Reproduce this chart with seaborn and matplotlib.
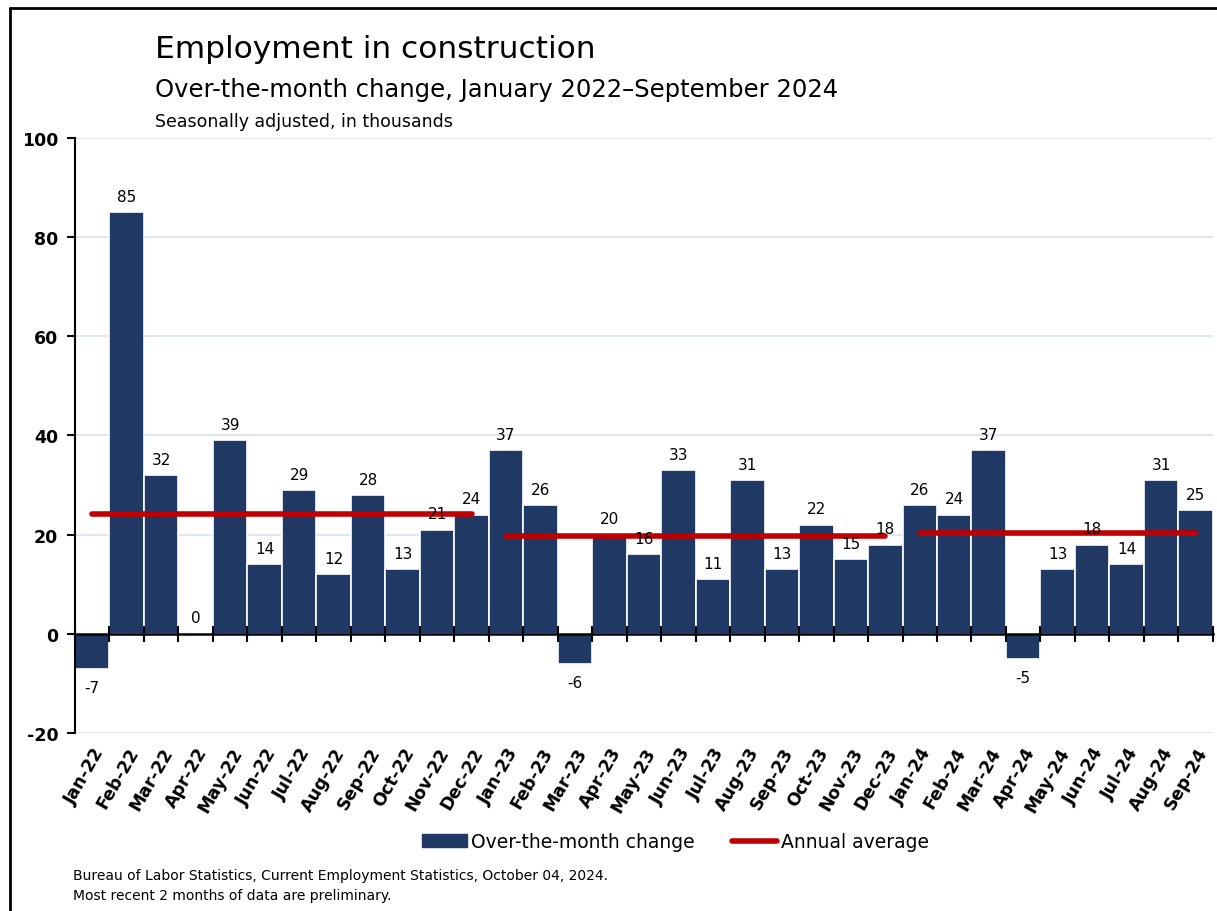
import numpy as np
import seaborn as sns
import matplotlib.pyplot as plt
from matplotlib.patches import Patch
from matplotlib.lines import Line2D

# Monthly change in construction employment (thousands)
months = ["Jan-22", "Feb-22", "Mar-22", "Apr-22", "May-22", "Jun-22", "Jul-22", "Aug-22",
          "Sep-22", "Oct-22", "Nov-22", "Dec-22", "Jan-23", "Feb-23", "Mar-23", "Apr-23",
          "May-23", "Jun-23", "Jul-23", "Aug-23", "Sep-23", "Oct-23", "Nov-23", "Dec-23",
          "Jan-24", "Feb-24", "Mar-24", "Apr-24", "May-24", "Jun-24", "Jul-24", "Aug-24",
          "Sep-24"]
change = [-7, 85, 32, 0, 39, 14, 29, 12, 28, 13, 21, 24,
          37, 26, -6, 20, 16, 33, 11, 31, 13, 22, 15, 18,
          26, 24, 37, -5, 13, 18, 14, 31, 25]

# Annual averages: first and last month of each year, value
avg_start = ["Jan-22", "Jan-23", "Jan-24"]
avg_end = ["Dec-22", "Dec-23", "Sep-24"]
avg_value = [24.2, 19.7, 20.3]

bar_color = "#203864"
avg_color = "#c00000"
grid_color = "#d9e2f3"

sns.set_style("white")
plt.rcParams["font.family"] = ["DejaVu Sans"]
plt.rcParams["text.color"] = "black"
plt.rcParams["xtick.color"] = "black"
plt.rcParams["ytick.color"] = "black"
plt.rcParams["axes.unicode_minus"] = False

fig = plt.figure(figsize=(12.17, 9.12), dpi=100)
ax = fig.add_axes([0.0616, 0.1952, 0.935, 0.6524])

sns.barplot(x=months, y=change, color=bar_color, width=1.0, saturation=1,
            edgecolor="white", linewidth=1.2, ax=ax, zorder=2)

# annual average lines
for s, e, v in zip(avg_start, avg_end, avg_value):
    ax.plot([months.index(s), months.index(e)], [v, v], color=avg_color, lw=4,
            solid_capstyle="round", zorder=3)

# value labels
for i, v in enumerate(change):
    if v < 0:
        ax.annotate(str(v), (i, v), xytext=(0, -8), textcoords="offset points",
                    ha="center", va="top", fontsize=11)
    else:
        ax.annotate(str(v), (i, v), xytext=(0, 6), textcoords="offset points",
                    ha="center", va="bottom", fontsize=11)

ax.set_ylim(-20, 100)
ax.set_xlim(-0.5, len(months) - 0.5)
ax.set_yticks(np.arange(-20, 101, 20))
ax.yaxis.grid(True, color=grid_color, lw=1.2, zorder=0)
ax.set_axisbelow(True)
for side in ["top", "right", "bottom"]:
    ax.spines[side].set_visible(False)
ax.spines["left"].set_color("black")
ax.spines["left"].set_linewidth(1.5)
ax.tick_params(axis="y", direction="out", length=6, width=1.5, color="black",
               labelsize=12.5, pad=6, left=True)
for lab in ax.get_yticklabels():
    lab.set_fontweight("bold")

ax.tick_params(axis="x", length=0, pad=8)
ax.set_xticks(range(len(months)))
ax.set_xticklabels(months, rotation=60, ha="right", rotation_mode="anchor",
                   fontsize=12.5, fontweight="bold")

# zero line with boundary ticks
zero_ax = ax.secondary_xaxis(0, transform=ax.transData)
zero_ax.set_zorder(5)
zero_ax.set_xticks(np.arange(len(months) + 1) - 0.5)
zero_ax.tick_params(direction="inout", length=12, width=1.5, labelbottom=False)
zero_ax.spines["bottom"].set_linewidth(1.8)
zero_ax.spines["bottom"].set_color("black")

# titles
fig.text(0.127, 0.946, "Employment in construction", fontsize=22.5, va="center")
fig.text(0.127, 0.901, "Over-the-month change, January 2022\u2013September 2024",
         fontsize=17.5, va="center")
fig.text(0.127, 0.866, "Seasonally adjusted, in thousands", fontsize=12.5, va="center")

handles = [Patch(color=bar_color), Line2D([], [], color=avg_color, lw=4)]
fig.legend(handles, ["Over-the-month change", "Annual average"], loc="center",
           bbox_to_anchor=(0.555, 0.076), ncol=2, frameon=False, fontsize=13.5,
           handlelength=2.4, handletextpad=0.2, columnspacing=2.0)

fig.text(0.06, 0.040, "Bureau of Labor Statistics, Current Employment Statistics, October 04, 2024.",
         fontsize=10, va="center")
fig.text(0.06, 0.018, "Most recent 2 months of data are preliminary.", fontsize=10, va="center")

# frame lines on the left and top edges
fig.add_artist(Line2D([0.008, 0.008], [0, 0.99], color="black", lw=2))
fig.add_artist(Line2D([0.008, 1.0], [0.99, 0.99], color="black", lw=2))

fig.savefig("out.png", dpi=100)
